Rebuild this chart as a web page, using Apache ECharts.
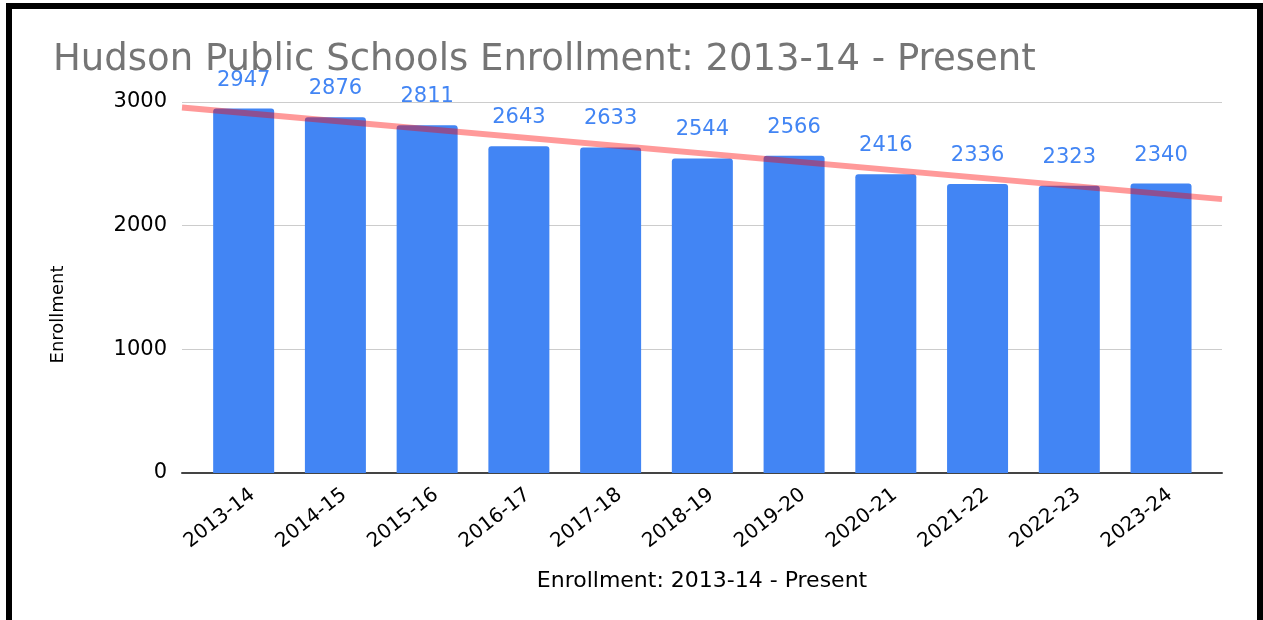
<!DOCTYPE html>
<html><head><meta charset="utf-8">
<script src="https://cdn.jsdelivr.net/npm/echarts@6/dist/echarts.min.js"></script>
<style>
html,body{margin:0;padding:0;background:#fff;overflow:hidden;width:1263px;height:620px;}
#chart{position:absolute;left:0;top:0;width:1263px;height:620px;}
#frame{position:absolute;left:6px;top:3px;width:1245px;height:700px;border:6px solid #000;border-bottom:none;pointer-events:none;}
</style></head><body>
<div id="chart"></div><div id="frame"></div>
<script>
const chartTitle = 'Hudson Public Schools Enrollment: 2013-14 - Present';
const xAxisTitle = 'Enrollment: 2013-14 - Present';
const yAxisTitle = 'Enrollment';
const categories = ['2013-14','2014-15','2015-16','2016-17','2017-18','2018-19','2019-20','2020-21','2021-22','2022-23','2023-24'];
const enrollment = [2947,2876,2811,2643,2633,2544,2566,2416,2336,2323,2340];
const yTicks = [0,1000,2000,3000];

// linear trendline (least squares over category index)
function fit(vals){
  const n = vals.length;
  let sx=0, sy=0, sxx=0, sxy=0;
  vals.forEach((v,i)=>{sx+=i; sy+=v; sxx+=i*i; sxy+=i*v;});
  const b = (n*sxy - sx*sy)/(n*sxx - sx*sx);
  const a = (sy - b*sx)/n;
  return x => a + b*x;
}
const trend = fit(enrollment);
const xLo = -0.6726, xHi = 10.665;   // plot-area extent in category-index units
const trendData = [[xLo, trend(xLo)], [xHi, trend(xHi)]];

const FONT = 'DejaVu Sans';
const chart = echarts.init(document.getElementById('chart'), null, {renderer:'canvas'});
chart.setOption({
  animation: false,
  backgroundColor: '#ffffff',
  title: {
    text: chartTitle, left: 48, top: 37,
    textStyle: {fontFamily: FONT, fontSize: 37, fontWeight: 'normal', color: '#757575'}
  },
  grid: [
    {left: 182, right: 41, top: 102, bottom: 147},
    {left: 197.8, right: 56.1, top: 102, bottom: 147}
  ],
  xAxis: [
    {type: 'value', gridIndex: 0, min: xLo, max: xHi,
     axisLine: {show: true, lineStyle: {color: '#444', width: 2}},
     axisTick: {show: false}, axisLabel: {show: false}, splitLine: {show: false},
     name: xAxisTitle, nameLocation: 'middle', nameGap: 97,
     nameTextStyle: {fontFamily: FONT, fontSize: 22, color: '#000'}},
    {type: 'category', gridIndex: 1, data: categories,
     axisLine: {show: false}, axisTick: {show: false}, splitLine: {show: false},
     axisLabel: {interval: 0, rotate: 38, margin: 0, verticalAlign: 'top', align: 'right',
       padding: [11, 5, 0, 0], fontFamily: FONT, fontSize: 20, color: '#000'}}
  ],
  yAxis: [
    {type: 'value', gridIndex: 0, min: yTicks[0], max: yTicks[yTicks.length-1], interval: 1000,
     axisLine: {show: false}, axisTick: {show: false},
     splitLine: {show: true, lineStyle: {color: '#cccccc', width: 1}},
     axisLabel: {margin: 15, fontFamily: FONT, fontSize: 21, color: '#000', formatter: v => String(v)},
     name: yAxisTitle, nameLocation: 'middle', nameGap: 115, nameRotate: 90,
     nameTextStyle: {fontFamily: FONT, fontSize: 18, color: '#000', padding: [0, 54, 0, 0]}},
    {type: 'value', gridIndex: 1, min: yTicks[0], max: yTicks[yTicks.length-1], interval: 1000,
     show: false}
  ],
  series: [
    {type: 'bar', xAxisIndex: 1, yAxisIndex: 1, data: enrollment, barWidth: 61, z: 2,
     itemStyle: {color: '#4285f4', borderRadius: [3,3,0,0]},
     label: {show: true, position: 'top', distance: 18, fontFamily: FONT, fontSize: 21, color: '#4285f4'}},
    {type: 'line', xAxisIndex: 0, yAxisIndex: 0, data: trendData, z: 5, silent: true,
     symbol: 'none', lineStyle: {color: 'rgba(255,0,0,0.4)', width: 6}}
  ]
});
</script></body></html>
